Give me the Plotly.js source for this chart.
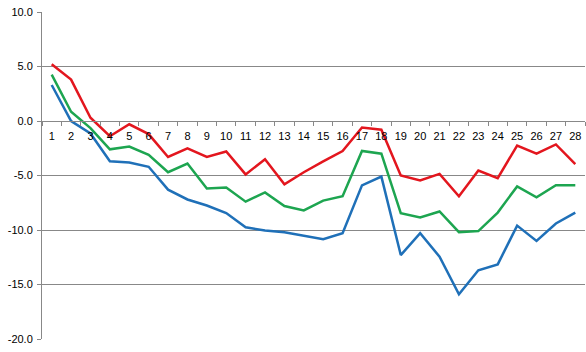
<!DOCTYPE html>
<html>
<head>
<meta charset="utf-8">
<script src="https://cdn.plot.ly/plotly-3.0.1.min.js"></script>
<style>html,body{margin:0;padding:0;background:#fff;}#chart{width:586px;height:352px;}</style>
</head>
<body>
<div id="chart"></div>
<script>
var categories = ["1","2","3","4","5","6","7","8","9","10","11","12","13","14","15","16","17","18","19","20","21","22","23","24","25","26","27","28"];
var redValues = [5.2, 3.8, 0.3, -1.4, -0.3, -1.2, -3.3, -2.5, -3.3, -2.8, -4.9, -3.5, -5.8, -4.7, -3.7, -2.75, -0.6, -0.8, -5.0, -5.45, -4.85, -6.9, -4.55, -5.25, -2.25, -3.0, -2.15, -3.95];
var greenValues = [4.25, 0.85, -0.65, -2.6, -2.35, -3.1, -4.7, -3.9, -6.2, -6.1, -7.4, -6.55, -7.8, -8.2, -7.3, -6.9, -2.75, -3.0, -8.45, -8.85, -8.3, -10.2, -10.1, -8.4, -6.0, -7.0, -5.9, -5.9];
var blueValues = [3.3, 0.0, -1.15, -3.7, -3.8, -4.2, -6.3, -7.2, -7.75, -8.45, -9.75, -10.05, -10.2, -10.5, -10.85, -10.3, -5.9, -5.1, -12.3, -10.3, -12.45, -15.9, -13.7, -13.15, -9.6, -11.0, -9.4, -8.4];
var yTickVals = [-20, -15, -10, -5, 0, 5, 10];
var yTickText = ["-20.0", "-15.0", "-10.0", "-5.0", "0.0", "5.0", "10.0"];

function series(vals, color) {
  return {x: categories, y: vals, type: 'scatter', mode: 'lines',
    line: {color: color, width: 2.5}, hoverinfo: 'skip', showlegend: false};
}
var data = [
  series(blueValues, '#1F70B8'),
  series(greenValues, '#1DA550'),
  series(redValues, '#E3161E')
];
var layout = {
  width: 586, height: 352,
  margin: {l: 42, r: 1, t: 12, b: 13},
  paper_bgcolor: '#fff', plot_bgcolor: '#fff',
  font: {family: 'Liberation Sans, Arial, sans-serif', size: 11, color: '#000'},
  showlegend: false,
  xaxis: {
    type: 'category', range: [-0.5, 27.5],
    anchor: 'free', position: 2/3,
    showgrid: false, zeroline: false,
    showline: true, linecolor: '#888', linewidth: 1,
    ticks: 'outside', tickson: 'boundaries', ticklen: 4, tickcolor: '#888',
    ticklabelstandoff: 5,
    tickfont: {size: 11, color: '#000'}, tickangle: 0
  },
  yaxis: {
    range: [-20, 10], domain: [0, 1],
    tickvals: yTickVals, ticktext: yTickText,
    showgrid: true, gridcolor: '#888', gridwidth: 1,
    zeroline: false,
    showline: true, linecolor: '#888', linewidth: 1,
    ticks: 'outside', ticklen: 4, tickcolor: '#888',
    ticklabelstandoff: 2,
    tickfont: {size: 11, color: '#000'}
  }
};
Plotly.newPlot('chart', data, layout, {staticPlot: true, displayModeBar: false});
</script>
</body>
</html>
